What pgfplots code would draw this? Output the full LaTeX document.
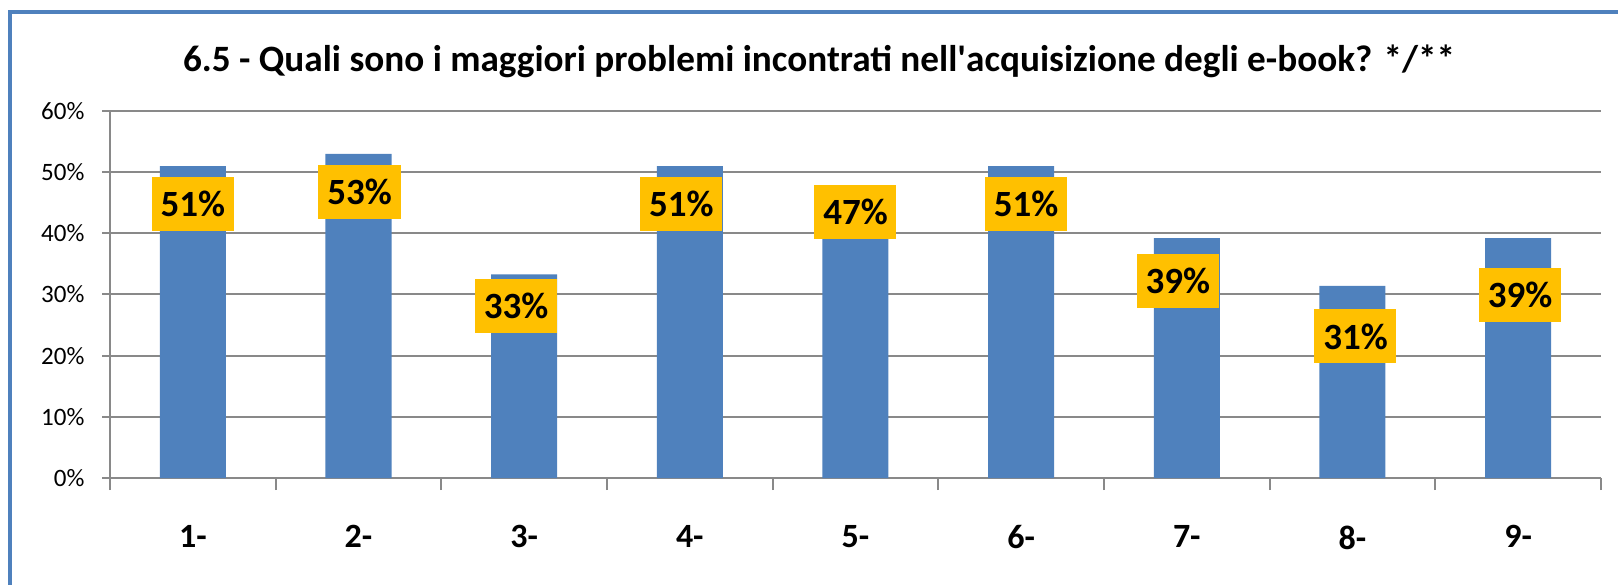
\documentclass[border=0pt]{standalone}
\usepackage{pgfplots}
\pgfplotsset{compat=1.18}
\usepackage{pgfplotstable}
\usepackage{fontspec}
\setmainfont{Carlito}
\definecolor{barblue}{HTML}{4F81BD}
\definecolor{labgold}{HTML}{FFC000}
\definecolor{gridgray}{HTML}{898989}

\pgfplotstableread{
x y lab dx dy
1 51.0 51 0 -19
2 53.0 53 0.5 -19
3 33.3 33 -4 -16
4 51.0 51 -4.25 -19
5 47.0 47 0 -10.75
6 51.0 51 2.5 -19
7 39.2 39 -4.5 -21.25
8 31.4 31 1.5 -25.25
9 39.2 39 1 -28.5
}\datatable

\begin{document}
\begin{tikzpicture}
\useasboundingbox (0pt,0pt) rectangle (809pt,292pt);
\draw[barblue, line width=2.2pt] (5pt,-2pt) -- (5pt,286pt) -- (812pt,286pt);
\node[font=\fontsize{18.6pt}{22pt}\selectfont\bfseries] at (409.5pt,261.5pt)
  {6.5 - Quali sono i maggiori problemi incontrati nell\textquotesingle acquisizione degli e-book? */**};
\begin{axis}[
  at={(55pt,53pt)}, anchor=south west,
  scale only axis, width=745.5pt, height=183.5pt,
  xmin=0.5, xmax=9.5, ymin=0, ymax=60,
  axis x line=bottom, axis y line=left,
  axis line style={gridgray, line width=1pt, -},
  ytick={0,10,...,60},
  yticklabel={\pgfmathprintnumber[assume math mode=true]{\tick}\%},
  yticklabel style={font=\fontsize{12.5pt}{15pt}\selectfont, xshift=-5pt},
  xtick={0.5,1.5,...,9.5},
  x tick label as interval,
  xticklabels={1-,2-,3-,4-,5-,6-,7-,8-,9-},
  xticklabel style={font=\fontsize{17pt}{20pt}\selectfont\bfseries, yshift=-16pt},
  tick align=outside,
  xtick style={gridgray, line width=1pt, /pgfplots/major tick length=6pt},
  ytick style={gridgray, line width=1pt, /pgfplots/major tick length=4pt},
  ymajorgrids,
  major grid style={gridgray, line width=1pt},
  clip=false,
]
\addplot[ybar, bar width=33pt, fill=barblue, draw=none,
  point meta=explicit,
  visualization depends on={\thisrow{dx} \as \dx},
  visualization depends on={\thisrow{dy} \as \dy},
  nodes near coords={\pgfmathprintnumber[fixed,precision=0,assume math mode=true]{\pgfplotspointmeta}\%},
  every node near coord/.append style={anchor=center, fill=labgold, text=black,
    font=\fontsize{18.5pt}{22pt}\selectfont\bfseries,
    minimum width=41pt, minimum height=27pt, inner sep=0pt,
    xshift=\dx pt, yshift=\dy pt},
] table[x=x, y=y, meta=lab] {\datatable};
\end{axis}
\end{tikzpicture}
\end{document}
